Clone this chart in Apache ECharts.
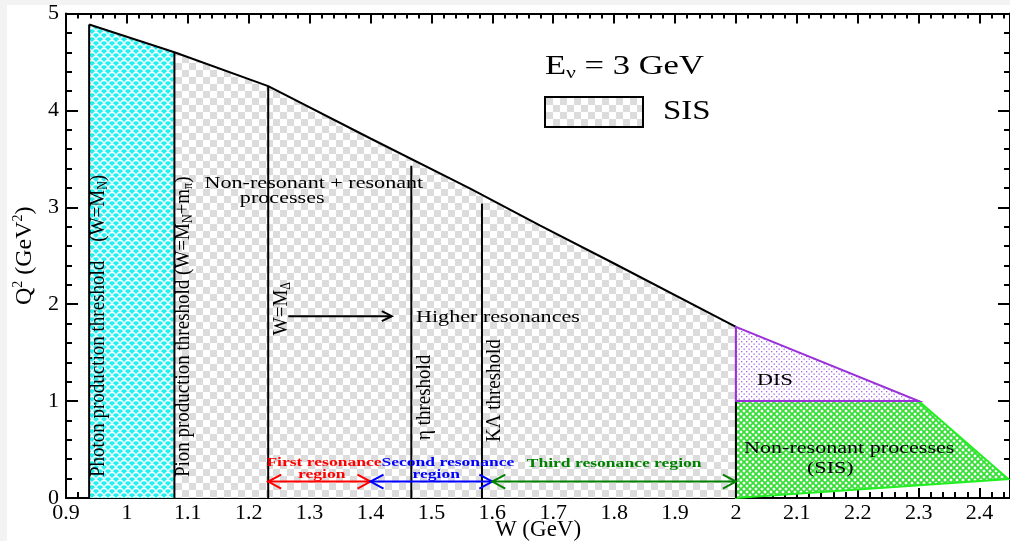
<!DOCTYPE html>
<html>
<head>
<meta charset="utf-8">
<script src="https://cdn.jsdelivr.net/npm/echarts@6/dist/echarts.min.js"></script>
<style>
  html, body { margin: 0; padding: 0; background: #fff; }
  #chart { width: 1010px; height: 541px; }
</style>
</head>
<body>
<div id="chart"></div>
<script>
// kinematic limit Q2max(W) for E_nu = 3 GeV
const curveW = [0.938, 1.078, 1.232, 1.4, 1.563, 1.678, 1.8, 2.0];
const curveQ2 = [4.887, 4.6, 4.25, 3.71, 3.196, 2.814, 2.42, 1.766];

// threshold lines (W position, top end)
const thrW = [0.938, 1.078, 1.232, 1.467, 1.583, 2.0];
const thrTop = [4.887, 4.6, 4.25, 3.43, 3.04, 1.766];

// DIS triangle and non-resonant (SIS) region above W = 2 GeV
const disW = [2.0, 2.3, 2.0];
const disQ2 = [1.766, 1.0, 1.0];
const nrW = [2.0, 2.3, 2.447, 2.0];
const nrQ2 = [1.0, 1.0, 0.196, 0.0];

// resonance region arrows
const regionFrom = [1.232, 1.4, 1.6];
const regionTo = [1.4, 1.6, 2.0];
const regionQ2 = [0.17, 0.17, 0.17];

// "W = M_Delta -> higher resonances" arrow
const deltaArrowW = [1.265, 1.435];
const deltaArrowQ2 = 1.876;

const wRange = [0.9, 2.45];
const q2Range = [0, 5];

const font = "Liberation Serif";

function makePattern(w, h, draw) {
  const c = document.createElement("canvas");
  c.width = w;
  c.height = h;
  draw(c.getContext("2d"));
  return { image: c, repeat: "repeat" };
}

const checker = makePattern(14, 14, (ctx) => {
  ctx.fillStyle = "#fff";
  ctx.fillRect(0, 0, 14, 14);
  ctx.fillStyle = "#dcdcdc";
  ctx.fillRect(0, 0, 7, 7);
  ctx.fillRect(7, 7, 7, 7);
});
const scales = makePattern(8, 8, (ctx) => {
  ctx.fillStyle = "#1ff0f0";
  ctx.fillRect(0, 0, 8, 8);
  ctx.strokeStyle = "#f0ffff";
  ctx.lineWidth = 1.6;
  [[0, 4], [8, 4], [4, 8], [4, 0]].forEach(([cx, cy]) => {
    ctx.beginPath();
    ctx.arc(cx, cy, 3.6, Math.PI, 2 * Math.PI);
    ctx.stroke();
  });
});
const dots = makePattern(5, 5, (ctx) => {
  ctx.fillStyle = "#fff";
  ctx.fillRect(0, 0, 5, 5);
  ctx.fillStyle = "#a868e0";
  ctx.fillRect(1, 1, 1.3, 1.3);
  ctx.fillRect(3.5, 3.5, 1.3, 1.3);
});
const hatch = makePattern(6, 6, (ctx) => {
  ctx.fillStyle = "#fff";
  ctx.fillRect(0, 0, 6, 6);
  ctx.strokeStyle = "#33dd33";
  ctx.lineWidth = 1.7;
  ctx.beginPath();
  ctx.moveTo(-1, -1); ctx.lineTo(7, 7);
  ctx.moveTo(7, -1); ctx.lineTo(-1, 7);
  ctx.stroke();
});

const pairs = (xs, ys) => xs.map((x, i) => [x, ys[i]]);
const curve = pairs(curveW, curveQ2);
const photonPoly = curve.filter((p) => p[0] <= 1.078).concat([[1.078, 0], [0.938, 0]]);
const sisPoly = curve.filter((p) => p[0] >= 1.078).concat([[2.0, 0], [1.078, 0]]);

function polygon(pts, z, style) {
  return {
    type: "custom",
    z: z,
    silent: true,
    data: pts,
    renderItem(params, api) {
      if (params.dataIndex !== 0) return null;
      return {
        type: "polygon",
        shape: { points: pts.map((p) => api.coord(p)) },
        style: style,
      };
    },
  };
}

function chevron(tip, dir, len, half) {
  return [
    [tip[0] - dir * len, tip[1] - half],
    tip,
    [tip[0] - dir * len, tip[1] + half],
  ];
}

const regionColors = ["#ff0000", "#0000ff", "#008000"];

const R = Math.PI / 2;
const rich = (size) => ({
  a: { fontFamily: font, fontSize: size, lineHeight: size + 3, fill: "#000" },
  s: { fontFamily: font, fontSize: Math.round(size * 0.62), lineHeight: Math.round(size * 0.62), verticalAlign: "bottom", fill: "#000" },
});
const notes = [
  { w: 0.9525, q: 0.216, rot: R, text: "{a|Photon production threshold    (W=M}{s|N}{a|)}" },
  { w: 1.092, q: 0.216, rot: R, text: "{a|Pion production threshold (W=M}{s|N}{a|+m}{s|π}{a|)}" },
  { w: 1.253, q: 1.68, rot: R, text: "{a|W=M}{s|Δ}" },
  { w: 1.488, q: 0.598, rot: R, text: "{a|η threshold}" },
  { w: 1.604, q: 0.577, rot: R, text: "{a|KΛ threshold}" },
  { w: 1.307, q: 3.247, text: "Non-resonant + resonant" },
  { w: 1.255, q: 3.093, text: "processes" },
  { w: 1.4747, q: 1.866, text: "Higher resonances", align: "left" },
  { w: 2.064, q: 1.216, text: "DIS" },
  { w: 2.186, q: 0.515, text: "Non-resonant processes" },
  { w: 2.155, q: 0.309, text: "(SIS)" },
  { w: 1.3236, q: 0.371, text: "First resonance", color: "#ff0000", bold: true },
  { w: 1.32, q: 0.247, text: "region", color: "#ff0000", bold: true },
  { w: 1.527, q: 0.371, text: "Second resonance", color: "#0000ff", bold: true },
  { w: 1.508, q: 0.247, text: "region", color: "#0000ff", bold: true },
  { w: 1.8, q: 0.351, text: "Third resonance region", color: "#008000", bold: true },
];

const axisLineStyle = { color: "#000", width: 2 };

const chart = echarts.init(document.getElementById("chart"));
chart.setOption({
  animation: false,
  backgroundColor: "#fff",
  grid: { left: 66, right: 0, top: 13.5, bottom: 43, outerBoundsMode: "none", containLabel: false },
  xAxis: [
    {
      type: "value",
      min: wRange[0],
      max: wRange[1],
      interval: 0.1,
      position: "bottom",
      name: "W (GeV)",
      nameLocation: "middle",
      nameGap: 20,
      nameMoveOverlap: false,
      nameTextStyle: { fontFamily: font, fontSize: 23, color: "#000", verticalAlign: "top" },
      axisLine: { onZero: false, lineStyle: axisLineStyle },
      axisTick: { inside: true, length: 10, lineStyle: axisLineStyle },
      minorTick: { show: true, splitNumber: 5, length: 6, lineStyle: axisLineStyle },
      axisLabel: { color: "#000", fontFamily: font, fontSize: 22, margin: 4, showMaxLabel: false },
      splitLine: { show: false },
      minorSplitLine: { show: false },
    },
    {
      type: "value",
      min: wRange[0],
      max: wRange[1],
      interval: 0.1,
      position: "top",
      axisLine: { onZero: false, lineStyle: axisLineStyle },
      axisTick: { inside: true, length: 10, lineStyle: axisLineStyle },
      minorTick: { show: true, splitNumber: 5, length: 5, lineStyle: axisLineStyle },
      axisLabel: { show: false },
      splitLine: { show: false },
    },
  ],
  yAxis: [
    {
      type: "value",
      min: q2Range[0],
      max: q2Range[1],
      interval: 1,
      position: "left",
      name: "{a|Q}{s|2}{a| (GeV}{s|2}{a|)}",
      nameLocation: "middle",
      nameGap: 25,
      nameTextStyle: {
        rich: {
          a: { fontFamily: font, fontSize: 24, lineHeight: 28, color: "#000" },
          s: { fontFamily: font, fontSize: 14, lineHeight: 14, verticalAlign: "top", color: "#000" },
        },
      },
      axisLine: { onZero: false, lineStyle: axisLineStyle },
      axisTick: { inside: true, length: 12, lineStyle: axisLineStyle },
      minorTick: { show: true, splitNumber: 5, length: 6, lineStyle: axisLineStyle },
      axisLabel: { color: "#000", fontFamily: font, fontSize: 22, margin: 7 },
      splitLine: { show: false },
    },
    {
      type: "value",
      min: q2Range[0],
      max: q2Range[1],
      interval: 1,
      position: "right",
      axisLine: { onZero: false, lineStyle: axisLineStyle },
      axisTick: { inside: true, length: 12, lineStyle: axisLineStyle },
      minorTick: { show: true, splitNumber: 5, length: 6, lineStyle: axisLineStyle },
      axisLabel: { show: false },
      splitLine: { show: false },
    },
  ],
  graphic: [
    { type: "rect", shape: { x: 0, y: 0, width: 1010, height: 5 }, style: { fill: "#f3f3f3" }, z: 100 },
    { type: "rect", shape: { x: 0, y: 0, width: 7, height: 541 }, style: { fill: "#f3f3f3" }, z: 100 },
    // legend
    {
      type: "rect",
      shape: { x: 545, y: 97, width: 98, height: 30 },
      style: { fill: checker, stroke: "#000", lineWidth: 2 },
      z: 50,
    },
    {
      type: "text",
      x: 545,
      y: 67,
      scaleX: 1.28,
      style: {
        text: "{a|E}{s|ν}{a| = 3 GeV}",
        rich: rich(27),
        verticalAlign: "middle",
        align: "left",
      },
      z: 50,
    },
    {
      type: "text",
      x: 663,
      y: 112,
      scaleX: 1.22,
      style: { text: "SIS", fontFamily: font, fontSize: 27, fill: "#000", verticalAlign: "middle", align: "left" },
      z: 50,
    },
  ],
  series: [
    polygon(photonPoly, 1, { fill: scales }),
    polygon(sisPoly, 1, { fill: checker }),
    polygon(pairs(nrW, nrQ2), 2, { fill: hatch, stroke: "#22ee22", lineWidth: 2 }),
    {
      type: "line",
      data: curve,
      z: 3,
      symbol: "none",
      lineStyle: { color: "#000", width: 2 },
      silent: true,
    },
    {
      type: "custom",
      z: 3,
      silent: true,
      data: pairs(thrW, thrTop),
      renderItem(params, api) {
        const p0 = api.coord([api.value(0), 0]);
        const p1 = api.coord([api.value(0), api.value(1)]);
        return {
          type: "line",
          shape: { x1: p0[0], y1: p0[1], x2: p1[0], y2: p1[1] },
          style: { stroke: "#000", lineWidth: 2 },
        };
      },
    },
    polygon(pairs(disW, disQ2), 4, { fill: dots, stroke: "#9b30d9", lineWidth: 2 }),
    // region arrows
    {
      type: "custom",
      z: 5,
      silent: true,
      data: regionFrom.map((w, i) => [w, regionTo[i], regionQ2[i]]),
      renderItem(params, api) {
        const c = regionColors[params.dataIndex];
        const a = api.coord([api.value(0), api.value(2)]);
        const b = api.coord([api.value(1), api.value(2)]);
        const st = { stroke: c, lineWidth: 2, fill: null };
        return {
          type: "group",
          children: [
            { type: "line", shape: { x1: a[0], y1: a[1], x2: b[0], y2: b[1] }, style: st },
            { type: "polyline", shape: { points: chevron(a, -1, 13, 7) }, style: st },
            { type: "polyline", shape: { points: chevron(b, 1, 13, 7) }, style: st },
          ],
        };
      },
    },
    {
      type: "custom",
      z: 5,
      silent: true,
      data: [[deltaArrowW[0], deltaArrowW[1], deltaArrowQ2]],
      renderItem(params, api) {
        const a = api.coord([api.value(0), api.value(2)]);
        const b = api.coord([api.value(1), api.value(2)]);
        const st = { stroke: "#000", lineWidth: 2, fill: null };
        return {
          type: "group",
          children: [
            { type: "line", shape: { x1: a[0], y1: a[1], x2: b[0], y2: b[1] }, style: st },
            { type: "polyline", shape: { points: chevron(b, 1, 10, 5) }, style: st },
          ],
        };
      },
    },
    // annotations
    {
      type: "custom",
      z: 6,
      silent: true,
      data: notes.map((n) => [n.w, n.q]),
      renderItem(params, api) {
        const n = notes[params.dataIndex];
        const p = api.coord([api.value(0), api.value(1)]);
        if (n.rot) {
          return {
            type: "text",
            x: p[0],
            y: p[1],
            rotation: n.rot,
            scaleY: 1.15,
            style: { text: n.text, rich: rich(19), align: "left", verticalAlign: "middle" },
          };
        }
        return {
          type: "text",
          x: p[0],
          y: p[1],
          scaleX: 1.3,
          style: {
            text: n.text,
            fontFamily: font,
            fontSize: n.bold ? 13.5 : 17,
            fontWeight: n.bold ? "bold" : "normal",
            fill: n.color || "#000",
            align: n.align || "center",
            verticalAlign: "middle",
          },
        };
      },
    },
  ],
});
</script>
</body>
</html>
